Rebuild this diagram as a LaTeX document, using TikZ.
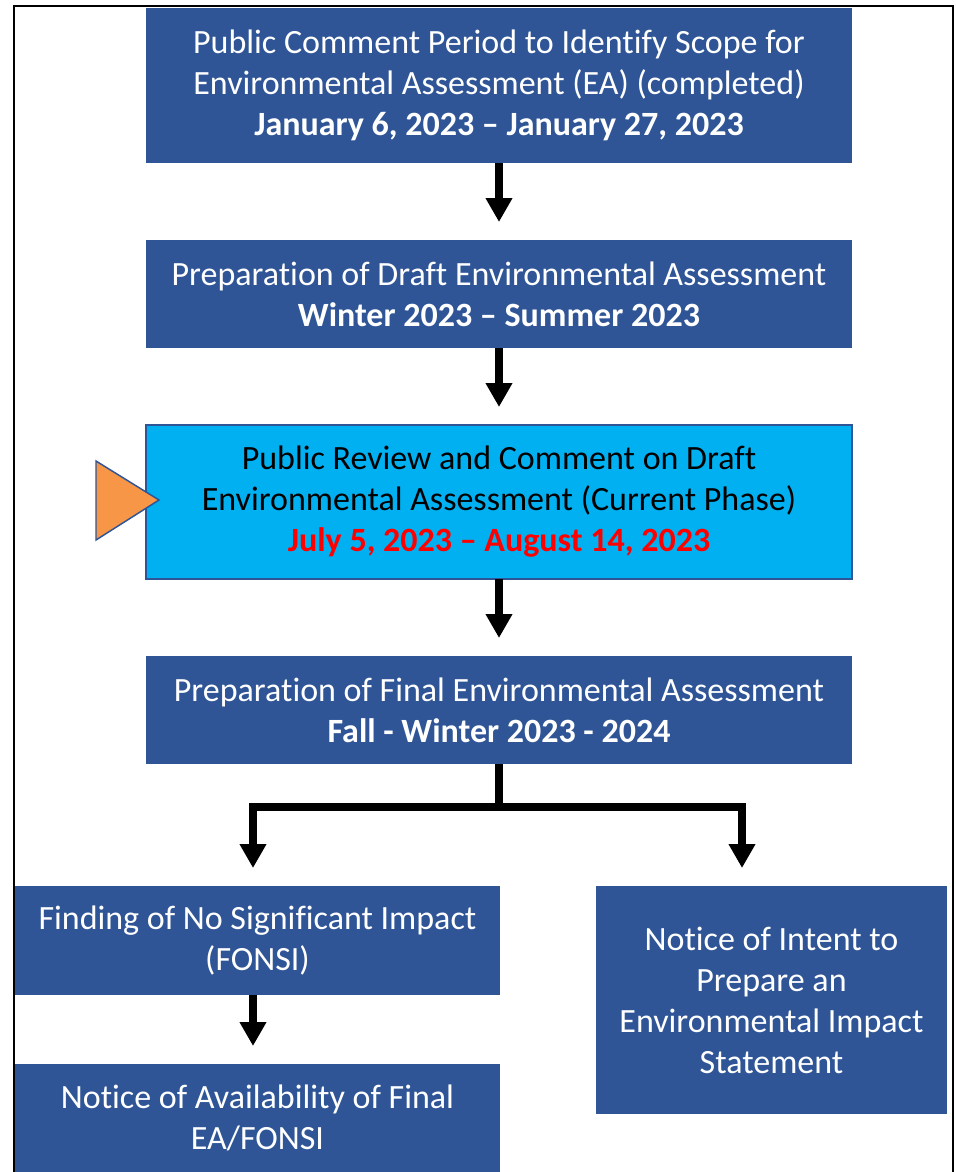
\documentclass[tikz,border=0pt]{standalone}
\usepackage{fontspec}
\setmainfont{Carlito}[Ligatures=NoCommon]
\usetikzlibrary{arrows.meta,positioning}
\definecolor{boxblue}{HTML}{2F5597}
\definecolor{nowblue}{HTML}{00B0F0}
\definecolor{datered}{HTML}{FF0000}
\definecolor{marker}{HTML}{F79646}

\begin{document}
\begin{tikzpicture}[x=0.75pt,y=-0.75pt,
  phase/.style={fill=boxblue,text=white,align=center,inner sep=0pt,outer sep=0pt,
    font=\fontsize{25.5}{30.75}\selectfont},
  wide/.style={phase,minimum width=529.5pt},
  arr/.style={line width=6pt,-{Triangle[width=19pt,length=18pt]},shorten >=13.5pt}]
\useasboundingbox (0,0) rectangle (956,1172);
\draw[line width=1.5pt] (14,1172) -- (14,6) -- (953,6) -- (953,1172);

\node[wide,minimum height=116.25pt] (scope) at (499,85.5)
  {Public Comment Period to Identify Scope for\\Environmental Assessment (EA) (completed)\\
   \textbf{January 6, 2023 – January 27, 2023}};
\node[wide,minimum height=81pt] (draft) at (499,294)
  {Preparation of Draft Environmental Assessment\\\textbf{Winter 2023 – Summer 2023}};
\node[wide,minimum height=115.5pt,fill=nowblue,text=black,draw=boxblue,line width=1.1pt] (review) at (499,502)
  {Public Review and Comment on Draft\\Environmental Assessment (Current Phase)\\
   \textcolor{datered}{\textbf{July 5, 2023 – August 14, 2023}}};
\node[wide,minimum height=81pt] (final) at (499,710)
  {Preparation of Final Environmental Assessment\\\textbf{Fall - Winter 2023 - 2024}};
\node[phase,minimum width=363.75pt,minimum height=81.75pt] (fonsi) at (257.5,940.5)
  {Finding of No Significant Impact\\(FONSI)};
\node[phase,minimum width=363.75pt,minimum height=81pt] (avail) at (257.5,1118)
  {Notice of Availability of Final\\EA/FONSI};
\node[phase,minimum width=263.25pt,minimum height=171pt] (intent) at (771.5,1000)
  {Notice of Intent to\\Prepare an\\Environmental Impact\\Statement};

\draw[fill=marker,draw=boxblue,line width=1.1pt] (96,461) -- (159,500) -- (96,540) -- cycle;

\coordinate (split) at (499,807);
\coordinate (lsplit) at (253,807);
\coordinate (rsplit) at (742,807);
\path[arr]
(scope.south) edge (draft.north)
(draft.south) edge (review.north)
(review.south) edge (final.north)
(fonsi.south -| lsplit) edge (avail.north -| lsplit);
\draw[line width=6pt] (final.south) -- (split);
\draw[arr,{Triangle[width=19pt,length=18pt]}-{Triangle[width=19pt,length=18pt]},shorten <=13.5pt]
  (lsplit |- fonsi.north) -- (lsplit) -- (rsplit) -- (rsplit |- intent.north);
\end{tikzpicture}
\end{document}
